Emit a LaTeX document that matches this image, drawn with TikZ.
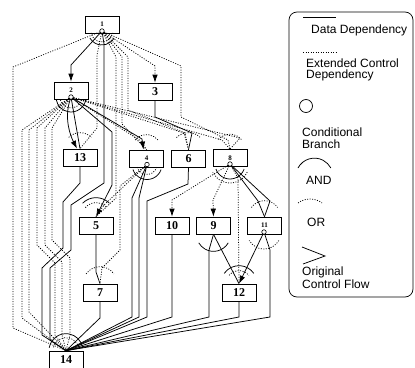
\documentclass[tikz,border=0pt]{standalone}
\usepackage{fontspec}
\setmainfont{Liberation Serif}
\setsansfont{Liberation Sans}
\usetikzlibrary{calc}
\usetikzlibrary{arrows.meta}

\tikzset{
  blk/.style={draw, fill=white, line width=0.7pt, minimum width=34pt, minimum height=17pt, inner sep=0pt, font=\fontsize{12}{12}\selectfont\bfseries},
  brn/.style={blk, font=\fontsize{7}{7}\selectfont\bfseries},
  cnd/.style={circle, draw, fill=white, line width=0.6pt, inner sep=0pt, minimum size=4.5pt},
  dd/.style={line width=0.75pt},
  ecd/.style={line width=0.75pt, dash pattern=on 1pt off 1.5pt},
  tip/.style={-{Latex[length=8pt,width=5.5pt]}},
  lgd/.style={anchor=west, inner sep=0pt, font=\sffamily\fontsize{12}{12}\selectfont}
}
\newcommand{\andarc}[4]{\draw[dd] ($(#1)+(#3:#2)$) arc[start angle=#3, end angle=#4, radius=#2];}
\newcommand{\orarc}[4]{\draw[ecd] ($(#1)+(#3:#2)$) arc[start angle=#3, end angle=#4, radius=#2];}

\begin{document}
\begin{tikzpicture}[x=1pt,y=-1pt]
\useasboundingbox (0,0) rectangle (415,367);

\node[brn] (n1) at (102,24.5) {1};
\node[brn] (n2) at (71,90.5) {2};
\node[blk] (n3) at (155,91.5) {3};
\node[blk] (n13) at (80,157.5) {13};
\node[brn] (n4) at (146.5,158.5) {4};
\node[blk] (n6) at (188.5,158.5) {6};
\node[brn] (n8) at (230,158) {8};
\node[blk] (n5) at (96,225.5) {5};
\node[blk] (n10) at (172,225.5) {10};
\node[blk] (n9) at (213.5,225.5) {9};
\node[brn] (n11) at (264.5,225.5) {11};
\node[blk] (n7) at (100,292.5) {7};
\node[blk] (n12) at (239,292.5) {12};
\node[blk] (n14) at (66,359.5) {14};

\node[cnd] (c1) at (102,31) {};
\node[cnd] (c2) at (71,97) {};
\node[cnd] (c4) at (147,164.5) {};
\node[cnd] (c8) at (230,164) {};
\node[cnd] (c11) at (264,232) {};

% from 1
\draw[dd,tip] (c1) -- (71,65) -- (n2.north);
\draw[ecd,tip] (c1) -- (155,66) -- (n3.north);
\draw[ecd] (c1) -- (13,67) -- (13,328) -- (n14.north);
\draw[ecd] (c1) -- (181,66) -- (181,117) -- (228,140) -- (n8.north);
\draw[dd] (c1) -- (104,44) -- (104,183) -- (71,205) -- (71,250) -- (50,268) -- (50,340) -- (n14.north);
\draw[ecd] (c1) -- (97,55) -- (97,128) -- (n13.north);
\draw[ecd] (c1) -- (116,57) -- (116,198) -- (n5.north);
\draw[ecd] (c1) -- (122,57) -- (122,124) -- (n4.north);
\draw[ecd] (c1) -- (128,57) -- (128,110) -- (185,133) -- (n6.north);

% from 2
\draw[dd,tip] (c2) .. controls (64,118) and (70,135) .. ([xshift=-3pt]n13.north);
\draw[dd] (c2) -- (n13.north);
\draw[dd,tip] (c2) -- (142,139) -- ([xshift=-3pt]n4.north);
\draw[dd,tip] (c2) -- (112,132) -- (112,185) -- (n5.north);
\draw[ecd] (c2) -- (141,141) -- (n4.north);
\draw[ecd] (c2) -- (184,133) -- (n6.north);
\draw[ecd] (c2) -- (222,140) -- (n8.north);
\draw[ecd] (c2) -- (240,138) -- (n8.north);
\draw[ecd] (c2) -- (22,130) -- (22,318) -- (n14.north);
\draw[ecd] (c2) -- (29,130) -- (29,312) -- (n14.north);
\draw[ecd] (c2) -- (37,128) -- (37,245) -- (55,263) -- (55,335) -- (n14.north);
\draw[ecd] (c2) -- (45,128) -- (45,245) -- (62,262) -- (62,335) -- (n14.north);
\draw[ecd] (c2) -- (52,128) -- (52,240) -- (70,258) -- (70,335) -- (n14.north);

% from 3, 13, 4, 6
\draw[dd] (n3.south) -- (155,117) -- (192,133) -- (n6.north);
\draw[dd] (n13.south) -- (80,183) -- (63,202) -- (63,248) -- (42,268) -- (42,335) -- (n14.north);
\draw[dd] (c4) -- (132,198) -- (132,317) -- (n14.north);
\draw[dd] (c4) -- (139,198) -- (139,317) -- (n14.north);
\draw[ecd] (c4) -- (104,205) -- (n5.north);
\draw[ecd] (c4) -- (120,186) -- (120,250) -- (102,268) -- (n7.north);
\draw[dd] (n6.south) -- (188,184) -- (147,201) -- (147,317) -- (n14.north);

% from 8
\draw[ecd,tip] (c8) -- (172,200) -- (n10.north);
\draw[ecd,tip] (c8) -- (213,200) -- (n9.north);
\draw[ecd] (c8) -- (238,178) -- (n12.north);
\draw[dd] (c8) -- (258,201) -- (n11.north);
\draw[dd] (c8) -- (270,201) -- (n11.north);

% lower part
\draw[dd] (n5.south) -- (96,272) -- (n7.north);
\draw[dd] (n7.south) -- (100,318) -- (n14.north);
\draw[dd] (n10.south) -- (172,317) -- (n14.north);
\draw[dd] (n9.south) -- (209,250) -- (209,317) -- (n14.north);
\draw[dd] (n9.south) -- (n12.north);
\draw[dd,tip] (c11) -- (n12.north);
\draw[dd] (c11) -- (270,250) -- (270,317) -- (n14.north);
\draw[dd] (n12.south) -- (239,317) -- (n14.north);

% and / or arcs
\andarc{c1}{14}{30}{150}
\orarc{c1}{11}{10}{170}
\andarc{c2}{15}{10}{170}
\orarc{c2}{11}{15}{165}
\orarc{n13.north}{16}{225}{315}
\orarc{n4.north}{15}{220}{320}
\andarc{c4}{15}{20}{160}
\orarc{c4}{10}{15}{165}
\orarc{n6.north}{17}{225}{315}
\orarc{n8.north}{15}{220}{320}
\andarc{c8}{15}{20}{160}
\orarc{c8}{19}{25}{155}
\andarc{n5.north}{19}{225}{315}
\orarc{n5.north}{14}{220}{320}
\orarc{n7.north}{17}{215}{325}
\andarc{n9.south}{17}{30}{150}
\orarc{n11.north}{16}{215}{325}
\orarc{c11}{17}{30}{150}
\andarc{n12.north}{18}{215}{325}
\orarc{n12.north}{13}{220}{320}
\andarc{n14.north}{17}{190}{350}
\orarc{n14.north}{13}{195}{345}

% legend
\draw[line width=0.7pt, rounded corners=8pt] (289,12) rectangle (413,297);
\draw[dd] (303,17) -- (336,17);
\node[lgd] (l1) at (311,30) {Data Dependency};
\draw[ecd] (303,52) -- (337,52);
\node[lgd] (l2) at (306,63) {Extended Control};
\node[lgd] (l3) at (306,75) {Dependency};
\draw[line width=0.7pt] (306,106) circle[radius=6.5];
\node[lgd] (l4) at (302,132) {Conditional};
\node[lgd] (l5) at (302,144) {Branch};
\draw[dd] (298,168) arc[start angle=208, end angle=332, radius=18.6];
\node[lgd] (l6) at (306,180) {AND};
\draw[ecd] (298,203) arc[start angle=233, end angle=307, radius=20];
\node[lgd] (l7) at (307,222) {OR};
\draw[dd] (302,247) -- (325,256) -- (303,264);
\node[lgd] (l8) at (302,272) {Original};
\node[lgd] (l9) at (302,284) {Control Flow};
\end{tikzpicture}
\end{document}
